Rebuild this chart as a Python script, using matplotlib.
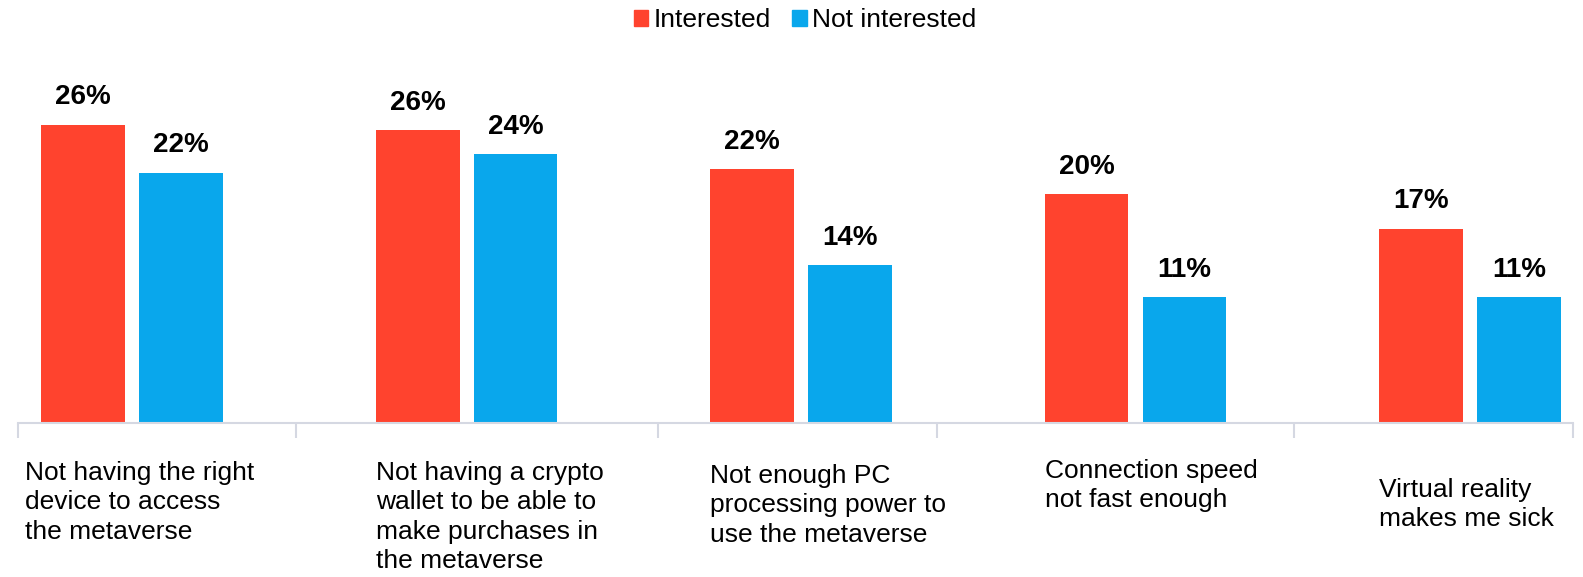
"""
Metaverse barriers: interested vs not interested.
"""
import matplotlib
matplotlib.use('Agg')
import matplotlib.pyplot as plt
import matplotlib.patches as mpatches
from matplotlib.transforms import blended_transform_factory

categories = [
    "Not having the right\ndevice to access\nthe metaverse",
    "Not having a crypto\nwallet to be able to\nmake purchases in\nthe metaverse",
    "Not enough PC\nprocessing power to\nuse the metaverse",
    "Connection speed\nnot fast enough",
    "Virtual reality\nmakes me sick",
]
interested = [26.1, 25.6, 22.2, 20.0, 17.0]
not_interested = [21.9, 23.5, 13.8, 11.0, 11.0]
interested_labels = ["26%", "26%", "22%", "20%", "17%"]
not_interested_labels = ["22%", "24%", "14%", "11%", "11%"]
series_names = ["Interested", "Not interested"]

RED = '#FF432E'
BLUE = '#09A7EC'
AXIS_COLOR = '#D5D8E2'
W, H = 1583, 577

plt.rcParams['font.family'] = ['Liberation Sans', 'DejaVu Sans']

fig = plt.figure(figsize=(W / 100, H / 100), dpi=100)
ax = fig.add_axes([18 / W, 1 - 423 / H, (1573 - 18) / W, 343 / H])

x = list(range(len(categories)))
width = 0.25
offset = 0.146

bars_i = ax.bar([v - offset for v in x], interested, width, color=RED)
bars_n = ax.bar([v + offset for v in x], not_interested, width, color=BLUE)

for bars, labels in ((bars_i, interested_labels), (bars_n, not_interested_labels)):
    for bar, lab in zip(bars, labels):
        ax.annotate(lab, (bar.get_x() + bar.get_width() / 2, bar.get_height()),
                    xytext=(0, 10.5), textcoords='offset points',
                    ha='center', va='bottom', fontsize=20, fontweight='bold')

ax.set_xlim(-0.341, 4.308)
ax.set_ylim(0, 30)

# axis styling: only bottom line with separators between categories
for side in ('top', 'right', 'left'):
    ax.spines[side].set_visible(False)
ax.spines['bottom'].set_color(AXIS_COLOR)
ax.spines['bottom'].set_linewidth(1.5)
ax.set_yticks([])
ax.set_xticks([-0.341, 0.490, 1.573, 2.407, 3.474, 4.308])
ax.set_xticklabels([])
ax.tick_params(axis='x', direction='out', length=11, width=1.5, color=AXIS_COLOR)

# category labels, left aligned under each group
trans = blended_transform_factory(ax.transData, fig.transFigure)
label_x = [-0.32, 1 - 0.271, 2 - 0.271, 3 - 0.271, 4 - 0.271]
label_top = [461, 461, 464, 459, 478]
for lx, ly, text in zip(label_x, label_top, categories):
    ax.text(lx, 1 - ly / H, text, transform=trans, ha='left', va='top',
            fontsize=19, linespacing=1.28, clip_on=False)

handles = [mpatches.Patch(color=RED, label=series_names[0]),
           mpatches.Patch(color=BLUE, label=series_names[1])]
fig.legend(handles=handles, loc='center', bbox_to_anchor=(805 / W, 1 - 20 / H),
           ncol=2, frameon=False, fontsize=19, handlelength=0.55, handleheight=0.55,
           handletextpad=0.2, columnspacing=0.8, borderaxespad=0, borderpad=0)

fig.savefig('out.png', dpi=100, facecolor='white')
